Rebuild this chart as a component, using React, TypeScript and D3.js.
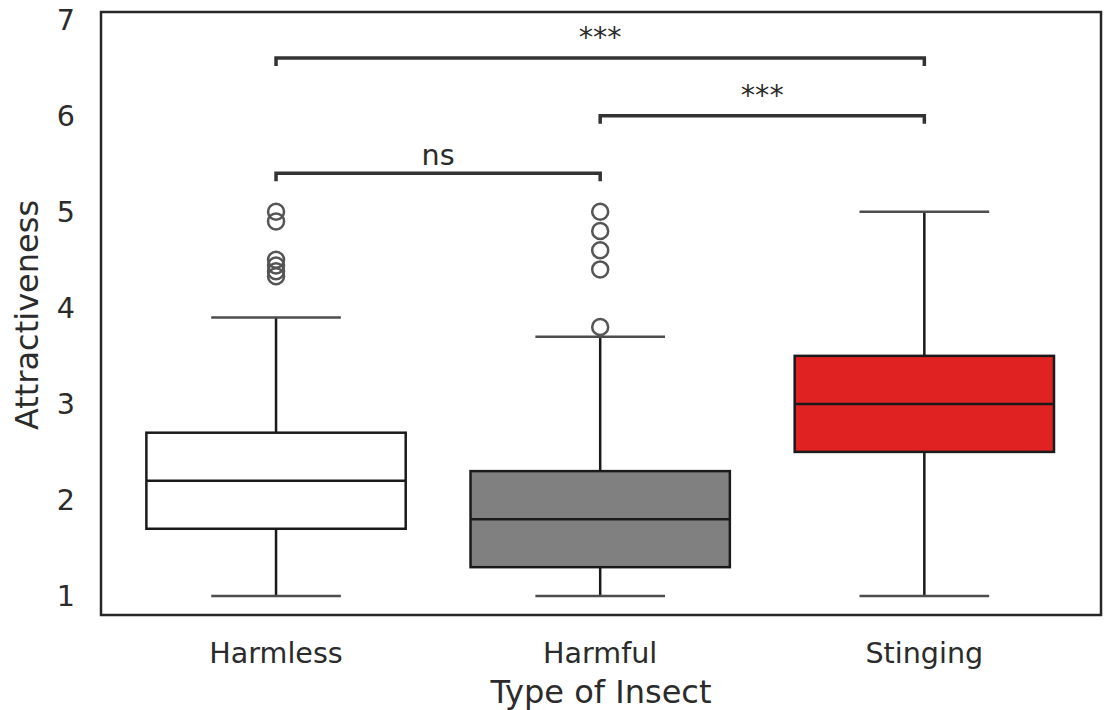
import * as d3 from "d3"
import { useEffect, useRef } from "react"

const categories = ["Harmless", "Harmful", "Stinging"]
const colors = ["#ffffff", "#808080", "#e02222"]
const q1 = [1.7, 1.3, 2.5]
const medians = [2.2, 1.8, 3.0]
const q3 = [2.7, 2.3, 3.5]
const whiskerLow = [1.0, 1.0, 1.0]
const whiskerHigh = [3.9, 3.7, 5.0]
const outliers = [
    [5.0, 4.9, 4.5, 4.44, 4.38, 4.33],
    [5.0, 4.8, 4.6, 4.4, 3.8],
    [],
]
const yTicks = [1, 2, 3, 4, 5, 6, 7]
// significance brackets: [from, to, level, label]
const brackets: [number, number, number, string][] = [
    [0, 1, 5.4, "ns"],
    [1, 2, 6.0, "***"],
    [0, 2, 6.6, "***"],
]

export default function App() {
    const svgRef = useRef<SVGSVGElement>(null)

    useEffect(() => {
        if (!svgRef.current) return
        const svg = d3.select(svgRef.current)
        svg.selectAll("*").remove()

        const width = 1109
        const height = 710
        const margin = { top: 12, right: 8, bottom: 95, left: 101 }
        const font = "DejaVu Sans, sans-serif"
        const textColor = "#2b2b2b"
        const tickSize = 28.6
        const labelSize = 32

        const x = d3.scaleLinear().domain([-0.54, 2.545]).range([margin.left, width - margin.right])
        const y = d3.scaleLinear().domain([0.802, 7.08]).range([height - margin.bottom, margin.top])
        const unit = x(1) - x(0)
        const boxW = unit * 0.8

        const g = svg.append("g")

        categories.forEach((c, i) => {
            const cx = x(i)
            // whiskers
            g.append("line").attr("x1", cx).attr("x2", cx).attr("y1", y(q1[i])).attr("y2", y(whiskerLow[i]))
                .attr("stroke", "#1a1a1a").attr("stroke-width", 2.5)
            g.append("line").attr("x1", cx).attr("x2", cx).attr("y1", y(q3[i])).attr("y2", y(whiskerHigh[i]))
                .attr("stroke", "#1a1a1a").attr("stroke-width", 2.5)
            // caps
            for (const v of [whiskerLow[i], whiskerHigh[i]]) {
                g.append("line").attr("x1", cx - boxW / 4).attr("x2", cx + boxW / 4).attr("y1", y(v)).attr("y2", y(v))
                    .attr("stroke", "#4d4d4d").attr("stroke-width", 2.5)
            }
            // box
            g.append("rect").attr("x", cx - boxW / 2).attr("width", boxW)
                .attr("y", y(q3[i])).attr("height", y(q1[i]) - y(q3[i]))
                .attr("fill", colors[i]).attr("stroke", "#1a1a1a").attr("stroke-width", 2.5)
            g.append("line").attr("x1", cx - boxW / 2).attr("x2", cx + boxW / 2).attr("y1", y(medians[i])).attr("y2", y(medians[i]))
                .attr("stroke", "#1a1a1a").attr("stroke-width", 2.5)
            // outliers
            outliers[i].forEach((v) => {
                g.append("circle").attr("cx", cx).attr("cy", y(v)).attr("r", 8)
                    .attr("fill", "none").attr("stroke", "#555555").attr("stroke-width", 2.5)
            })
            // x tick label
            svg.append("text").attr("x", cx).attr("y", 663).attr("text-anchor", "middle")
                .attr("font-family", font).attr("font-size", tickSize).attr("fill", textColor).text(c)
        })

        // significance annotations
        brackets.forEach(([a, b, lvl, label]) => {
            const yy = y(lvl)
            const drop = 8
            g.append("path")
                .attr("d", `M${x(a)},${yy + drop}L${x(a)},${yy}L${x(b)},${yy}L${x(b)},${yy + drop}`)
                .attr("fill", "none").attr("stroke", "#333333").attr("stroke-width", 3.5)
            g.append("text").attr("x", (x(a) + x(b)) / 2).attr("y", yy - (label === "ns" ? 8 : 11))
                .attr("text-anchor", "middle").attr("font-family", font).attr("font-size", tickSize)
                .attr("fill", textColor).text(label)
        })

        // frame
        svg.append("rect").attr("x", margin.left).attr("y", margin.top)
            .attr("width", width - margin.left - margin.right).attr("height", height - margin.top - margin.bottom)
            .attr("fill", "none").attr("stroke", "#262626").attr("stroke-width", 2.5)

        // y ticks
        yTicks.forEach((t) => {
            svg.append("text").attr("x", 75).attr("y", y(t)).attr("dy", "0.36em").attr("text-anchor", "end")
                .attr("font-family", font).attr("font-size", tickSize).attr("fill", textColor).text(t)
        })

        svg.append("text").attr("x", 601).attr("y", 703).attr("text-anchor", "middle")
            .attr("font-family", font).attr("font-size", labelSize).attr("fill", textColor).text("Type of Insect")
        svg.append("text").attr("transform", `translate(38,315) rotate(-90)`).attr("text-anchor", "middle")
            .attr("font-family", font).attr("font-size", labelSize).attr("fill", textColor).text("Attractiveness")
    }, [])

    return (
        <div style={{ position: "absolute", left: 0, top: 0 }}>
            <svg ref={svgRef} width={1109} height={710} viewBox="0 0 1109 710" style={{ display: "block", background: "#fff" }} />
        </div>
    )
}
